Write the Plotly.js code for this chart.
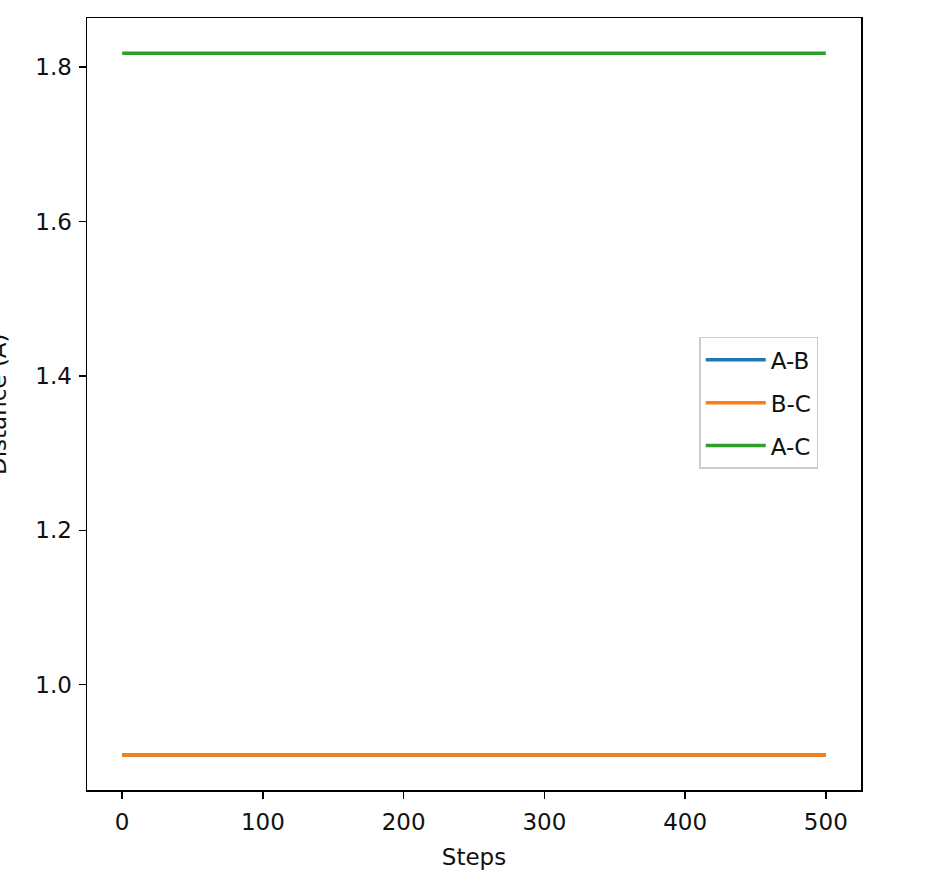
<!DOCTYPE html>
<html>
<head>
<meta charset="utf-8">
<script src="https://cdn.plot.ly/plotly-3.0.1.min.js"></script>
<style>html,body{margin:0;padding:0;background:#fff;}</style>
</head>
<body>
<div id="chart" style="width:946px;height:892px;"></div>
<script>
const steps = [0, 100, 200, 300, 400, 500];
const distAB = [0.909, 0.909, 0.909, 0.909, 0.909, 0.909];
const distBC = [0.909, 0.909, 0.909, 0.909, 0.909, 0.909];
const distAC = [1.818, 1.818, 1.818, 1.818, 1.818, 1.818];
const seriesNames = ["A-B", "B-C", "A-C"];
const colors = ["#1f77b4", "#ff7f0e", "#2ca02c"];
const yTitle = "Distance (Å)";

const series = [distAB, distBC, distAC];
const traces = series.map((ys, i) => ({
  x: steps, y: ys, type: "scatter", mode: "lines", name: seriesNames[i],
  legendgroup: "g" + i,
  line: {color: colors[i], width: 3.5}
}));

const font = {family: "DejaVu Sans, sans-serif", size: 23, color: "#111"};
const layout = {
  width: 946, height: 892,
  margin: {l: 87, r: 85, t: 18, b: 102},
  paper_bgcolor: "#fff", plot_bgcolor: "#fff",
  font: font,
  showlegend: true,
  legend: {
    x: 0.791, y: 0.587, xanchor: "left", yanchor: "top",
    bgcolor: "rgba(255,255,255,0.8)", bordercolor: "#cccccc", borderwidth: 1.5,
    font: {family: "DejaVu Sans, sans-serif", size: 23, color: "#111"},
    tracegroupgap: 10, itemwidth: 60
  },
  xaxis: {
    range: [-25, 525], tickvals: [0, 100, 200, 300, 400, 500],
    ticks: "outside", ticklen: 7, tickwidth: 1.5, tickcolor: "#000",
    ticklabelstandoff: 4,
    showline: true, linecolor: "#000", linewidth: 1.5, mirror: true,
    showgrid: false, zeroline: false,
    title: {text: "Steps", font: font, standoff: 15}
  },
  yaxis: {
    range: [0.8636, 1.8635], tickvals: [1.0, 1.2, 1.4, 1.6, 1.8],
    ticktext: ["1.0", "1.2", "1.4", "1.6", "1.8"],
    ticks: "outside", ticklen: 7, tickwidth: 1.5, tickcolor: "#000",
    ticklabelstandoff: 2,
    showline: true, linecolor: "#000", linewidth: 1.5, mirror: true,
    showgrid: false, zeroline: false
  },
  annotations: [{
    text: yTitle, xref: "paper", yref: "paper", x: -0.1163, y: 0.5,
    xanchor: "center", yanchor: "middle", textangle: -90, showarrow: false,
    font: font
  }]
};
Plotly.newPlot("chart", traces, layout, {displayModeBar: false, staticPlot: true});
</script>
</body>
</html>
